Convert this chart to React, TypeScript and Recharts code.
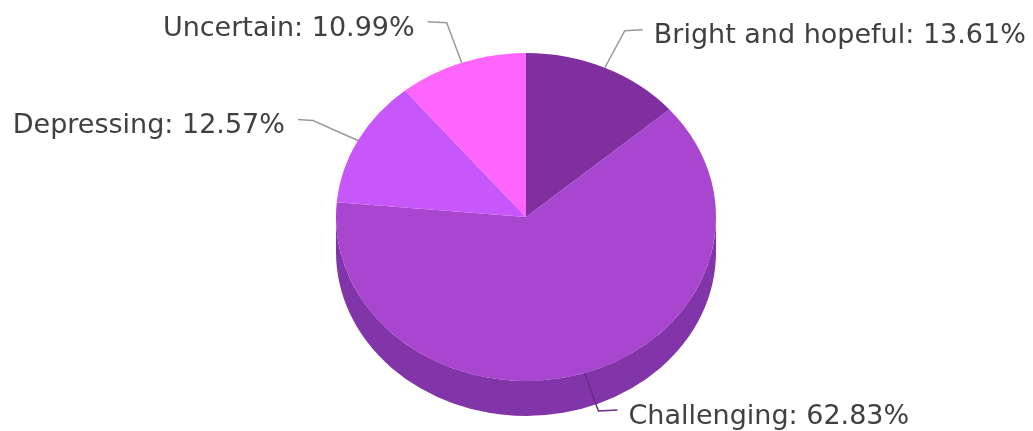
import React from 'react';
import { PieChart, Pie, Cell } from 'recharts';

const categories = ['Bright and hopeful', 'Challenging', 'Depressing', 'Uncertain'];
const shares = [13.61, 62.83, 12.57, 10.99];
const colors = ['#7f2f9e', '#a846cf', '#c757fb', '#fd65fc'];

const chartData = categories.map((name, i) => ({ name, value: shares[i] }));

const WALL_COLOR = '#8235a8';
const RADIUS = 190;
const SQUASH = 164 / 190; // the disc is tilted, so it draws as an ellipse
const DEPTH = 35;

// leader line bends, relative to where the line leaves the disc
const leaders: Record<string, { bendX: number; bendY: number; endX: number; textY: number }> = {
  'Bright and hopeful': { bendX: 20, bendY: -37, endX: 38, textY: 3 },
  Challenging: { bendX: 14, bendY: 38, endX: 33, textY: 3 },
  Depressing: { bendX: -45, bendY: -20, endX: -60, textY: 3 },
  Uncertain: { bendX: -15, bendY: -40, endX: -34, textY: 4 },
};

const pointAt = (cx: number, cy: number, r: number, angle: number) => {
  const rad = (angle * Math.PI) / 180;
  return { x: cx + r * Math.cos(rad), y: cy - r * SQUASH * Math.sin(rad) };
};

const TopSlice = (props: any) => {
  const { cx, cy, outerRadius, startAngle, endAngle, fill } = props;
  const a = pointAt(cx, cy, outerRadius, startAngle);
  const b = pointAt(cx, cy, outerRadius, endAngle);
  const large = Math.abs(startAngle - endAngle) > 180 ? 1 : 0;
  const ry = outerRadius * SQUASH;
  return (
    <path
      d={`M${cx},${cy} L${a.x},${a.y} A${outerRadius},${ry} 0 ${large} 1 ${b.x},${b.y} Z`}
      fill={fill}
      stroke="none"
    />
  );
};

// side of the disc, only the front half can be seen
const WallSlice = (props: any) => {
  const { cx, cy, outerRadius, startAngle, endAngle } = props;
  const hi = Math.min(startAngle, 0);
  const lo = Math.max(endAngle, -180);
  if (hi <= lo) return <g />;
  const a = pointAt(cx, cy, outerRadius, hi);
  const b = pointAt(cx, cy, outerRadius, lo);
  const ry = outerRadius * SQUASH;
  return (
    <path
      d={`M${a.x},${a.y} A${outerRadius},${ry} 0 0 1 ${b.x},${b.y} L${b.x},${b.y + DEPTH} A${outerRadius},${ry} 0 0 0 ${a.x},${a.y + DEPTH} Z`}
      fill={WALL_COLOR}
      stroke="none"
    />
  );
};

const renderLabel = (props: any) => {
  const { cx, cy, outerRadius, midAngle, name, value } = props;
  const leader = leaders[name];
  const start = pointAt(cx, cy, outerRadius, midAngle);
  const bendX = start.x + leader.bendX;
  const bendY = start.y + leader.bendY;
  const endX = start.x + leader.endX;
  const right = leader.endX > 0;
  return (
    <g>
      <path
        d={`M${start.x},${start.y} L${bendX},${bendY} L${endX},${bendY - 1}`}
        fill="none"
        stroke={name === 'Challenging' ? '#6d2a8c' : '#9a9a9a'}
        strokeWidth={1.5}
      />
      <text
        x={endX + (right ? 11 : -13)}
        y={bendY + leader.textY}
        textAnchor={right ? 'start' : 'end'}
        dominantBaseline="central"
        fontFamily="DejaVu Sans"
        fontSize={27}
        fill="#404040"
      >
        {`${name}: ${value.toFixed(2)}%`}
      </text>
    </g>
  );
};

export default function App() {
  return (
    <div style={{ position: 'absolute', left: 0, top: 0, width: 1033, height: 431, background: '#fff', filter: 'blur(0.7px)' }}>
      <PieChart width={1033} height={431} margin={{ top: 0, right: 0, bottom: 0, left: 0 }}>
        <Pie
          data={chartData}
          dataKey="value"
          cx={526}
          cy={217}
          outerRadius={RADIUS}
          startAngle={90}
          endAngle={-270}
          shape={WallSlice}
          isAnimationActive={false}
          label={false}
          labelLine={false}
        />
        <Pie
          data={chartData}
          dataKey="value"
          cx={526}
          cy={217}
          outerRadius={RADIUS}
          startAngle={90}
          endAngle={-270}
          shape={TopSlice}
          isAnimationActive={false}
          label={renderLabel}
          labelLine={false}
        >
          {chartData.map((entry, index) => (
            <Cell key={`cell-${index}`} fill={colors[index]} />
          ))}
        </Pie>
      </PieChart>
    </div>
  );
}
